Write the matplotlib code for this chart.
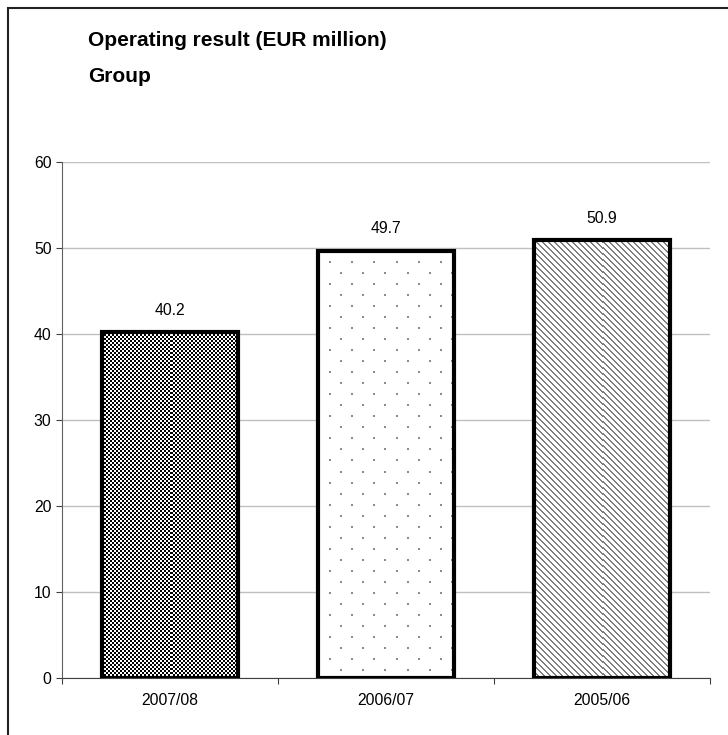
import matplotlib
matplotlib.use("Agg")
import matplotlib.pyplot as plt
import numpy as np
from matplotlib.patches import Rectangle

plt.rcParams['font.family'] = ['Liberation Sans', 'DejaVu Sans']

categories = ["2007/08", "2006/07", "2005/06"]
values = [40.2, 49.7, 50.9]
labels = ["40.2", "49.7", "50.9"]
patterns = ["checker", "dots", "diag"]
yticks = [0, 10, 20, 30, 40, 50, 60]

W, H = 728, 735
fig = plt.figure(figsize=(W/100, H/100), dpi=100)

fig.patches.append(Rectangle((8/W, -0.01), 1.0, 1 - 8/H + 0.01, transform=fig.transFigure,
                             fill=False, edgecolor="#222222", linewidth=1.5))

ax_left, ax_bottom_px, ax_right, ax_top_px = 62, 678, 710, 162
ax = fig.add_axes([ax_left/W, 1 - ax_bottom_px/H, (ax_right-ax_left)/W, (ax_bottom_px-ax_top_px)/H])
ymax = 60
px_per_unit_y = (ax_bottom_px - ax_top_px) / ymax
px_per_unit_x = (ax_right - ax_left) / 3.0


def texture(kind, h, w):
    r, c = np.mgrid[0:h, 0:w]
    img = np.ones((h, w, 3))
    if kind == "checker":
        mask = ((r // 2 + c // 2) % 2) == 0
        img[mask] = 0.0
    elif kind == "dots":
        rowi = r // 11
        off = (rowi % 2) * 11
        mask = ((r % 11) < 2) & (((c + off) % 22) < 2)
        img[mask] = 0.55
    elif kind == "diag":
        mask = ((c - r) % 6) < 2
        img[mask] = 0.5
    return img


x = list(range(len(categories)))
width = 0.63
for i in range(len(categories)):
    bars = ax.bar(x[i], values[i], width=width, color="white", linewidth=0, zorder=2)
    patch = bars[0]
    hpx = int(round(values[i] * px_per_unit_y))
    wpx = int(round(width * px_per_unit_x))
    im = ax.imshow(texture(patterns[i], hpx, wpx),
                   extent=(x[i] - width/2, x[i] + width/2, 0, values[i]),
                   interpolation="nearest", aspect="auto", zorder=2.5)
    im.set_clip_path(patch)
    ax.bar(x[i], values[i], width=width, fill=False, edgecolor="black",
           linewidth=3, zorder=3)
    ax.text(x[i], values[i] + 1.7, labels[i], ha="center", va="bottom", fontsize=11.3)

ax.set_xlim(-0.5, 2.5)
ax.set_ylim(0, ymax)
ax.set_aspect("auto")
ax.set_yticks(yticks)
ax.set_yticklabels([str(v) for v in yticks], fontsize=11.3)
ax.yaxis.grid(True, color="#c0c0c0", linewidth=1)
ax.set_axisbelow(True)
ax.set_xticks([-0.5, 0.5, 1.5, 2.5])
ax.set_xticklabels([])
ax.set_xticks(x, minor=True)
ax.set_xticklabels(categories, minor=True, fontsize=11.3)
ax.tick_params(axis='x', which='minor', length=0, pad=11)
ax.tick_params(axis='x', which='major', length=4.5, direction='out', color="#404040")
ax.tick_params(axis='y', length=4, direction='out', color="#404040", pad=3.5)
for s in ["top", "right"]:
    ax.spines[s].set_visible(False)
ax.spines["left"].set_color("#606060")
ax.spines["bottom"].set_color("#404040")

fig.text(88/W, 1 - 40/H, "Operating result (EUR million)", fontsize=15, fontweight="bold",
         va="center", ha="left")
fig.text(88/W, 1 - 77/H, "Group", fontsize=15, fontweight="bold", va="center", ha="left")

fig.savefig("out.png", dpi=100)
